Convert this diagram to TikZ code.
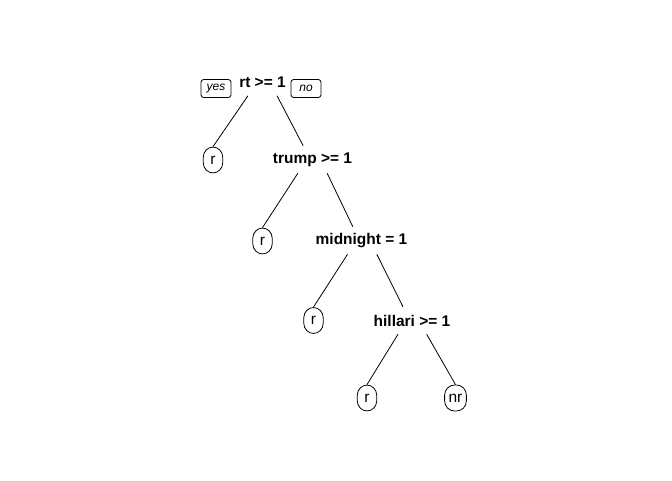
\documentclass[tikz,border=0pt]{standalone}
\usepackage{fontspec}
\setmainfont{Liberation Sans}
\usetikzlibrary{positioning,calc}

\begin{document}
\begin{tikzpicture}[
    x=0.75pt, y=0.75pt,
    split/.style={inner sep=0pt, minimum height=20.25pt, font=\fontsize{11.6}{13}\selectfont\bfseries},
    leaf/.style={rectangle, draw, rounded corners=7.5pt, line width=0.6pt, minimum width=14.5pt, minimum height=19.5pt, inner xsep=3pt, inner ysep=0pt, font=\fontsize{11.6}{13}\selectfont},
    answer/.style={rectangle, draw, rounded corners=2pt, line width=0.6pt, minimum width=22.5pt, minimum height=13.5pt, inner sep=0pt, font=\fontsize{9}{10}\selectfont\itshape},
    branch/.style={line width=0.6pt}
]
\useasboundingbox (0,0) rectangle (672,-480);

% Splits
\node[split] (rt) at (262.5,-82) {rt >= 1};
\node[split] (trump) at (312.5,-159.5) {trump >= 1};
\node[split] (midnight) at (361.5,-240.5) {midnight = 1};
\node[split] (hillari) at (412,-320.5) {hillari >= 1};

% yes / no
\node[answer] (yes) at (216,-88.5) {yes};
\node[answer] (no) at (306,-88.5) {no};

% Leaves
\node[leaf] (r1) at (213,-160) {r};
\node[leaf] (r2) at (262.5,-241) {r};
\node[leaf] (r3) at (313.5,-320.5) {r};
\node[leaf] (r4) at (367,-398) {r};
\node[leaf] (nr) at (455.5,-398) {nr};

% Branches
\draw[branch] ([xshift=-10.9pt]rt.south) -- (r1.north);
\draw[branch] ([xshift=10.9pt]rt.south) -- ([xshift=-7pt]trump.north);
\draw[branch] ([xshift=-11pt]trump.south) -- (r2.north);
\draw[branch] ([xshift=11pt]trump.south) -- ([xshift=-6.5pt]midnight.north);
\draw[branch] ([xshift=-10.5pt]midnight.south) -- (r3.north);
\draw[branch] ([xshift=11.5pt]midnight.south) -- ([xshift=-6.8pt]hillari.north);
\draw[branch] ([xshift=-10.5pt]hillari.south) -- (r4.north);
\draw[branch] ([xshift=11pt]hillari.south) -- (nr.north);
\end{tikzpicture}
\end{document}
